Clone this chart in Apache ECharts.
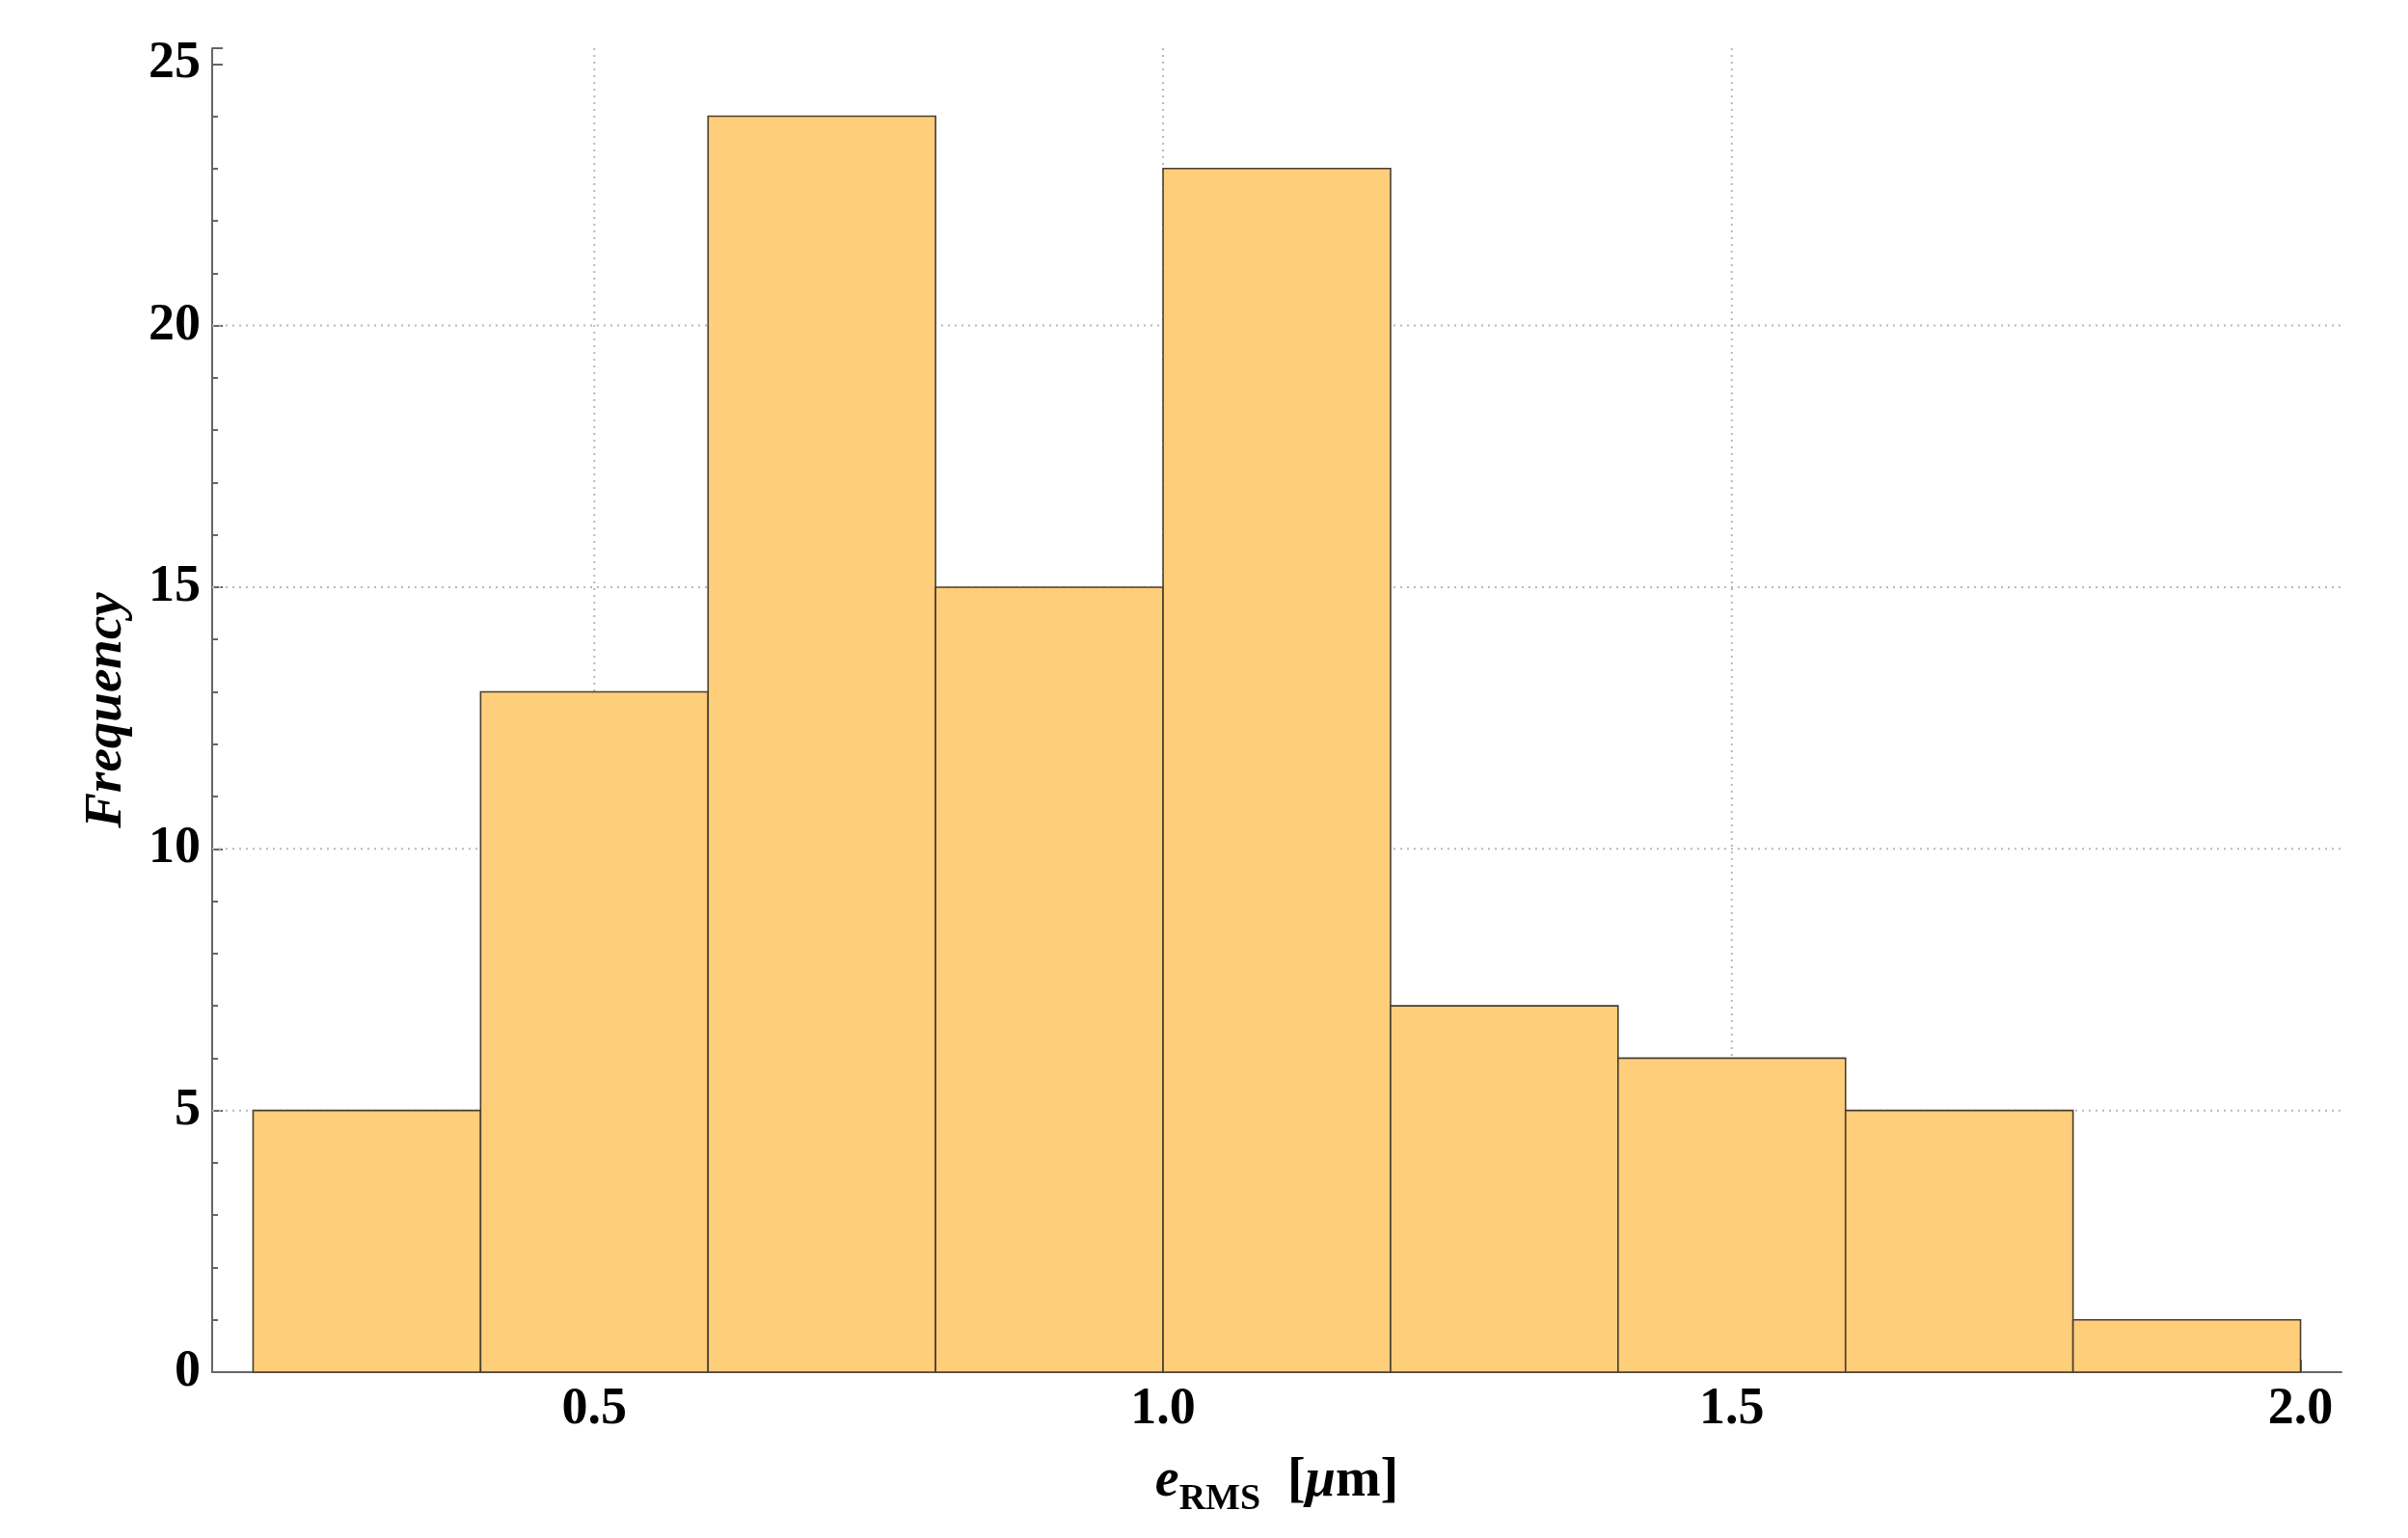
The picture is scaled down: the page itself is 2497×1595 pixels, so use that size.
<!DOCTYPE html>
<html><head><meta charset="utf-8">
<script src="https://cdn.jsdelivr.net/npm/echarts@6/dist/echarts.min.js"></script>
<style>html,body{margin:0;padding:0;background:#fff}#c{width:2497px;height:1595px}</style>
</head><body><div id="c"></div>
<script>
const binEdges = [0.2, 0.4, 0.6, 0.8, 1.0, 1.2, 1.4, 1.6, 1.8, 2.0];
const counts = [5, 13, 24, 15, 23, 7, 6, 5, 1];
const xMajorTicks = [0.5, 1.0, 1.5, 2.0];
const xMinorTicks = [0.2, 0.3, 0.4, 0.6, 0.7, 0.8, 0.9, 1.1, 1.2, 1.3, 1.4, 1.6, 1.7, 1.8, 1.9];
const xGridValues = [0.5, 1.0, 1.5];
const yGridValues = [5, 10, 15, 20];

const FONT = 'Liberation Serif';
const barData = counts.map((c, i) => [binEdges[i], binEdges[i + 1], c]);

const chart = echarts.init(document.getElementById('c'), null, {renderer: 'canvas'});
chart.setOption({
  animation: false,
  backgroundColor: '#fff',
  grid: {left: 220, right: 69, top: 50, bottom: 172, containLabel: false},
  xAxis: [{
    type: 'value', min: 0.164, max: 2.036, position: 'bottom',
    name: '{e|e}{sub|RMS}{t|  [}{mu|μ}{t|m]}',
    nameLocation: 'middle', nameGap: 80,
    nameTextStyle: {
      rich: {
        e: {fontFamily: FONT, fontWeight: 'bold', fontStyle: 'italic', fontSize: 56, color: '#000', lineHeight: 62, verticalAlign: 'bottom'},
        sub: {fontFamily: FONT, fontWeight: 'bold', fontSize: 38, color: '#000', lineHeight: 62, verticalAlign: 'bottom', padding: [0, 0, -9, 0]},
        t: {fontFamily: FONT, fontWeight: 'bold', fontSize: 56, color: '#000', lineHeight: 62, verticalAlign: 'bottom'},
        mu: {fontFamily: FONT, fontWeight: 'bold', fontStyle: 'italic', fontSize: 56, color: '#000', lineHeight: 62, verticalAlign: 'bottom'}
      }
    },
    axisLine: {show: true, onZero: false, lineStyle: {color: '#666', width: 2}},
    axisTick: {show: true, inside: true, length: 13, customValues: xMajorTicks, lineStyle: {color: '#666', width: 2}},
    axisLabel: {show: true, customValues: xMajorTicks, margin: 12,
      formatter: v => v.toFixed(1),
      fontFamily: FONT, fontWeight: 'bold', fontSize: 54, color: '#000'},
    splitLine: {show: false}
  }, {
    type: 'value', min: 0.164, max: 2.036, position: 'bottom',
    axisLine: {show: false, onZero: false},
    axisTick: {show: true, inside: true, length: 7, customValues: xMinorTicks, lineStyle: {color: '#666', width: 2}},
    axisLabel: {show: false},
    splitLine: {show: false}
  }],
  yAxis: {
    type: 'value', min: 0, max: 25.3, interval: 5,
    name: 'Frequency', nameLocation: 'middle', nameGap: 82,
    nameTextStyle: {fontFamily: FONT, fontWeight: 'bold', fontStyle: 'italic', fontSize: 55, color: '#000'},
    axisLine: {show: true, lineStyle: {color: '#666', width: 2}},
    axisTick: {show: true, inside: true, length: 11, lineStyle: {color: '#666', width: 2}},
    minorTick: {show: true, splitNumber: 5, length: 6, lineStyle: {color: '#666', width: 2}},
    axisLabel: {margin: 12, fontFamily: FONT, fontWeight: 'bold', fontSize: 54, color: '#000',
      showMaxLabel: false},
    splitLine: {show: false}
  },
  series: [{
    type: 'custom', z: 1, silent: true,
    data: xGridValues.map(v => [v]),
    renderItem: (params, api) => {
      const cs = params.coordSys;
      const x = api.coord([api.value(0), 0])[0];
      return {type: 'line', shape: {x1: x, y1: cs.y, x2: x, y2: cs.y + cs.height},
        style: {stroke: '#b8b8b8', lineWidth: 2, lineDash: [2, 5]}};
    }
  }, {
    type: 'custom', z: 1, silent: true,
    data: yGridValues.map(v => [0, v]),
    encode: {x: 0, y: 1},
    renderItem: (params, api) => {
      const cs = params.coordSys;
      const y = api.coord([1, api.value(1)])[1];
      return {type: 'line', shape: {x1: cs.x, y1: y, x2: cs.x + cs.width, y2: y},
        style: {stroke: '#b8b8b8', lineWidth: 2, lineDash: [2, 5]}};
    }
  }, {
    type: 'custom', z: 2,
    data: barData,
    encode: {x: [0, 1], y: 2},
    renderItem: (params, api) => {
      const p0 = api.coord([api.value(0), 0]);
      const p1 = api.coord([api.value(1), api.value(2)]);
      return {type: 'rect',
        shape: {x: p0[0], y: p1[1], width: p1[0] - p0[0], height: p0[1] - p1[1]},
        style: {fill: '#fece7b', stroke: '#4a3d30', lineWidth: 1.6}};
    }
  }]
});
</script></body></html>
